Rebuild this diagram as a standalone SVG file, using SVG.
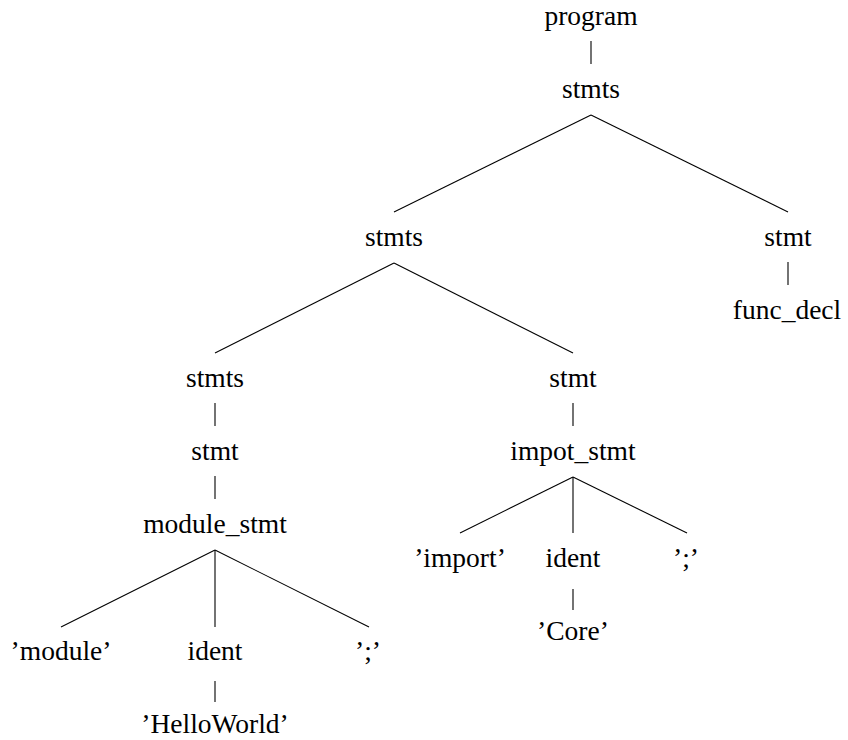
<svg xmlns="http://www.w3.org/2000/svg" width="848" height="740" viewBox="0 0 848 740">
  <style>
    text { font-family: 'Liberation Serif', 'Times New Roman', serif; font-size: 27.5px; fill: #000; text-anchor: middle; }
    .edge { stroke: #000; stroke-width: 1.1; fill: none; }
  </style>
  <rect width="848" height="740" fill="#fff"/>

  <!-- tree edges -->
  <g id="edges" class="edge">
    <line x1="591" y1="41" x2="591" y2="64"/>
    <line x1="591" y1="115" x2="394" y2="212"/>
    <line x1="591" y1="115" x2="788" y2="212"/>
    <line x1="788" y1="262" x2="788" y2="285"/>
    <line x1="394" y1="263" x2="215" y2="353"/>
    <line x1="394" y1="263" x2="573" y2="353"/>
    <line x1="215" y1="403" x2="215" y2="426"/>
    <line x1="573" y1="403" x2="573" y2="426"/>
    <line x1="215" y1="476" x2="215" y2="499"/>
    <line x1="573" y1="477" x2="460" y2="533"/>
    <line x1="573" y1="477" x2="573" y2="533"/>
    <line x1="573" y1="477" x2="687" y2="533"/>
    <line x1="573" y1="589" x2="573" y2="610"/>
    <line x1="215" y1="550" x2="61" y2="627"/>
    <line x1="215" y1="550" x2="215" y2="627"/>
    <line x1="215" y1="550" x2="369" y2="627"/>
    <line x1="215" y1="681" x2="215" y2="702"/>
  </g>

  <!-- tree nodes -->
  <g id="nodes">
    <g id="n-program"><text x="591" y="25">program</text></g>
    <g id="n-stmts-root"><text x="591" y="98">stmts</text></g>
    <g id="n-stmts-mid"><text x="394" y="246">stmts</text></g>
    <g id="n-stmt-right"><text x="788" y="246">stmt</text></g>
    <g id="n-func-decl"><text x="787" y="319">func_decl</text></g>
    <g id="n-stmts-left"><text x="215" y="387">stmts</text></g>
    <g id="n-stmt-import"><text x="573" y="387">stmt</text></g>
    <g id="n-stmt-module"><text x="215" y="460">stmt</text></g>
    <g id="n-impot-stmt"><text x="573" y="460">impot_stmt</text></g>
    <g id="n-module-stmt"><text x="215" y="533">module_stmt</text></g>
    <g id="n-kw-import"><text x="460" y="567">’import’</text></g>
    <g id="n-ident-import"><text x="573" y="567">ident</text></g>
    <g id="n-semi-import"><text x="686" y="567">’;’</text></g>
    <g id="n-core"><text x="573" y="640">’Core’</text></g>
    <g id="n-kw-module"><text x="61" y="660">’module’</text></g>
    <g id="n-ident-module"><text x="215" y="660">ident</text></g>
    <g id="n-semi-module"><text x="368" y="660">’;’</text></g>
    <g id="n-helloworld"><text x="215" y="733">’HelloWorld’</text></g>
  </g>
</svg>
